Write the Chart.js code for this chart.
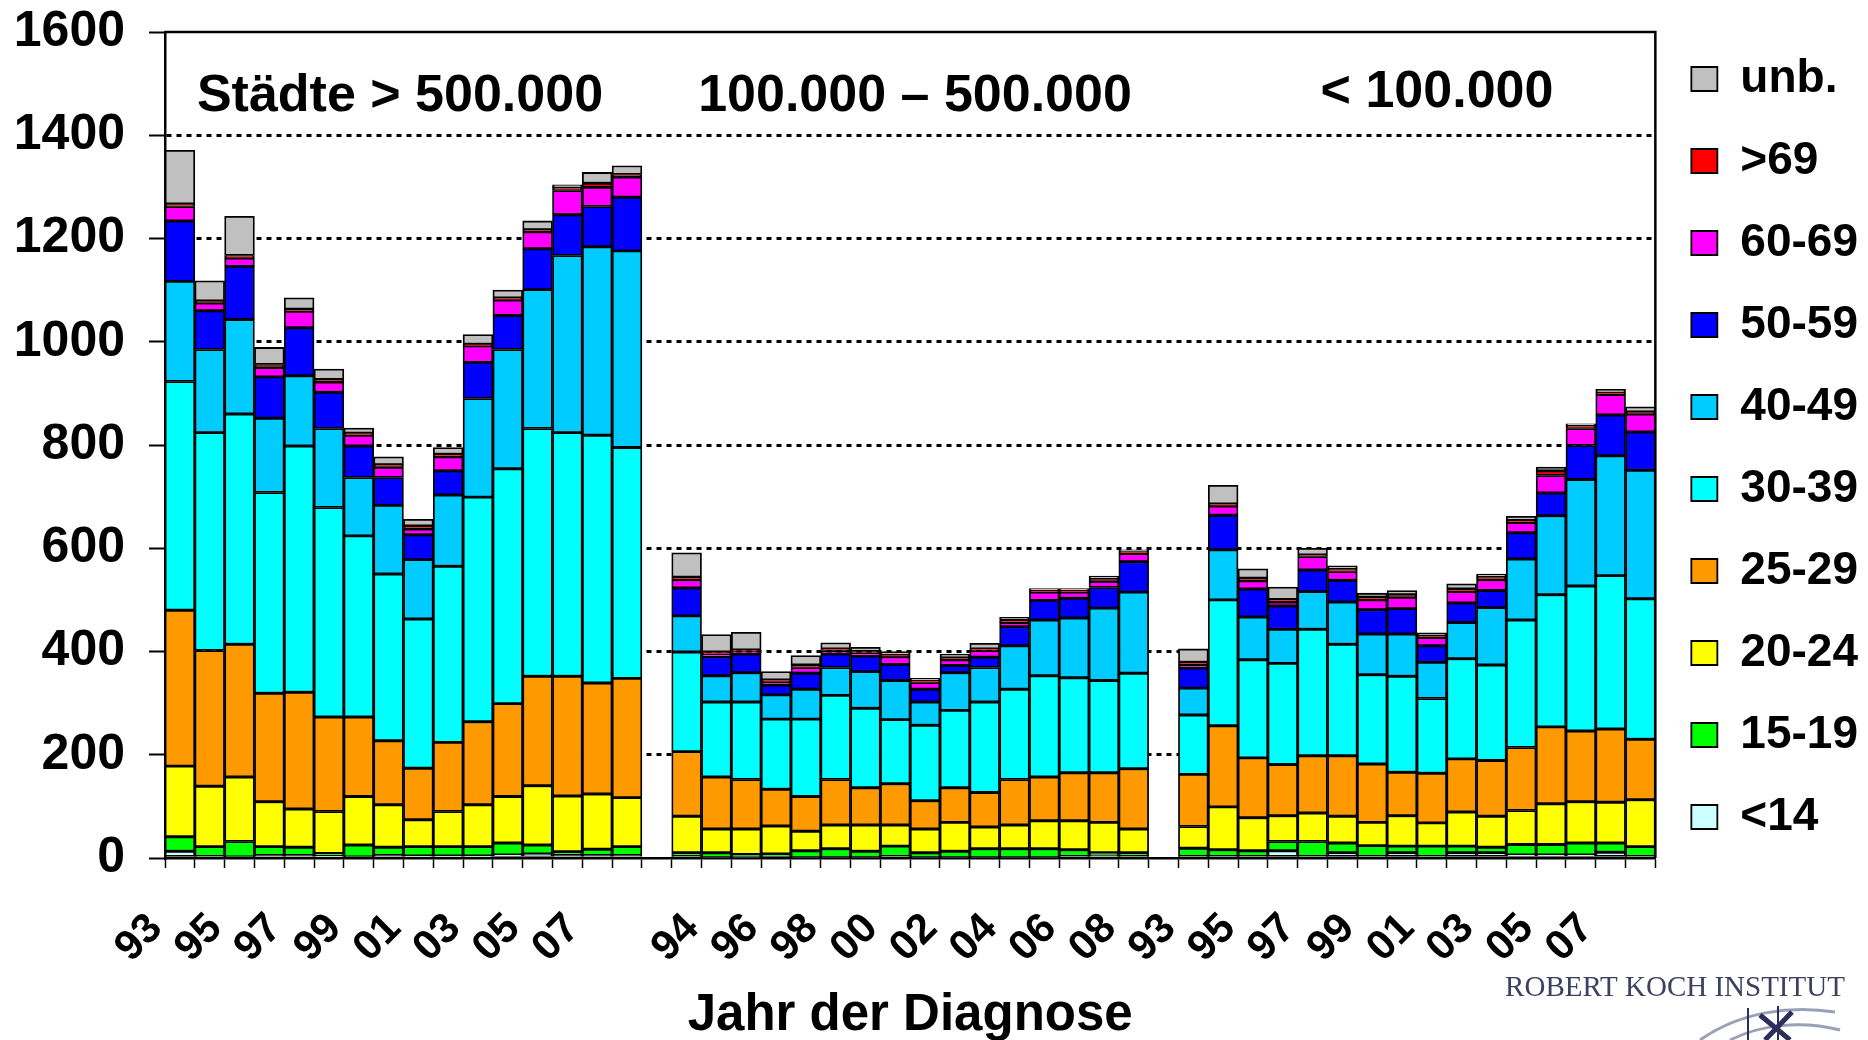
<!DOCTYPE html>
<html><head><meta charset="utf-8">
<script src="https://cdn.jsdelivr.net/npm/chart.js@4"></script>
<style>html,body{margin:0;padding:0;background:#fff;}canvas{display:block}</style>
</head><body>
<canvas id="c" width="1868" height="1040"></canvas>
<script>
// ---- data ----
const years = ['93','94','95','96','97','98','99','00','01','02','03','04','05','06','07','08'];
const groupTitles = ['Städte > 500.000', '100.000 – 500.000', '< 100.000'];
const bandNames = ['<14','15-19','20-24','25-29','30-39','40-49','50-59','60-69','>69','unb.'];
const bandColors = ['#ccffff','#00ff00','#ffff00','#ff9900','#00ffff','#00ccff','#0000ff','#ff00ff','#ff0000','#c0c0c0'];
const yTicks = [0,200,400,600,800,1000,1200,1400,1600];
const xTitle = 'Jahr der Diagnose';

// values per age band: group >500.000 (16), 100.000-500.000 (16), <100.000 (16)
const v_lt14  = [13,3,2,5,5,4,2,5,4,4,4,6,8,5,5,5,  3,1,1,2,1,1,1,3,1,1,1,1,1,3,5,3,  3,3,3,14,3,10,3,10,3,10,10,6,6,6,11,3];
const v_15_19 = [28,19,30,17,16,5,23,16,18,18,18,23,17,7,12,17,  7,9,6,6,13,17,12,20,9,12,17,17,17,13,5,7,  16,13,11,18,29,19,21,13,20,13,11,20,20,23,18,19];
const v_20_24 = [137,117,125,87,74,81,94,82,52,68,81,90,115,108,107,95,  71,46,49,54,38,46,51,41,46,56,42,46,54,56,59,46,  42,83,64,50,55,52,45,59,45,66,60,66,79,80,79,91];
const v_25_29 = [302,263,257,210,226,183,154,124,100,134,161,180,212,232,215,231,  125,101,96,71,67,88,72,80,55,67,67,88,85,93,96,117,  101,157,116,99,111,117,113,84,96,103,108,122,149,137,142,117];
const v_30_39 = [443,422,446,389,477,406,351,323,289,341,435,455,480,472,480,447,  193,145,150,136,150,163,154,124,146,150,175,175,196,184,179,185,  115,244,190,196,245,216,173,186,145,194,185,247,256,281,297,272];
const v_40_49 = [194,161,183,144,136,153,113,133,115,138,191,231,269,343,365,381,  70,51,57,47,58,54,71,76,45,73,67,84,108,116,140,157,  52,97,83,66,73,82,79,82,70,70,111,118,153,206,232,249];
const v_50_59 = [117,75,103,80,93,70,61,54,48,47,70,66,79,79,78,104,  54,37,36,19,31,26,30,31,25,14,20,37,38,38,40,59,  39,67,54,45,42,42,47,49,32,38,33,51,44,66,79,74];
const v_60_69 = [28,15,16,18,32,20,21,20,11,27,32,30,33,47,37,39,  16,5,5,6,11,7,6,15,13,11,13,8,16,12,12,16,  7,18,16,8,26,17,19,22,16,22,21,20,34,33,40,35];
const v_gt69  = [5,4,5,6,4,5,4,5,6,5,3,4,4,6,8,5,  5,4,3,4,5,3,3,3,3,4,3,5,3,3,5,3,  4,4,5,5,3,5,5,5,3,5,6,4,9,6,3,4];
const v_unb   = [104,39,76,33,22,20,10,15,13,13,19,15,17,5,21,17,  47,34,34,16,18,12,8,7,5,7,11,5,4,4,5,4,  26,36,18,24,13,6,8,8,6,10,5,8,7,3,7,10];
const bandValues = [v_lt14,v_15_19,v_20_24,v_25_29,v_30_39,v_40_49,v_50_59,v_60_69,v_gt69,v_unb];

// ---- build category axis with an empty slot between groups ----
const nG = years.length;
const labels = [];
for (let g = 0; g < 3; g++) { years.forEach(y => labels.push(y)); if (g < 2) labels.push(''); }
function withGaps(arr) {
  const out = [];
  for (let g = 0; g < 3; g++) { out.push(...arr.slice(g*nG, (g+1)*nG)); if (g < 2) out.push(null); }
  return out;
}
const datasets = bandNames.map((n, i) => ({
  label: n, data: withGaps(bandValues[i]), backgroundColor: bandColors[i],
  borderColor: '#000', borderWidth: 1.8, borderSkipped: false,
  barPercentage: 1, categoryPercentage: 1
}));

const FONT = "'Liberation Sans', Arial, sans-serif";
Chart.defaults.font.family = FONT;
Chart.defaults.color = '#000';

const extras = {
  id: 'extras',
  afterDatasetsDraw(chart) {
    const {ctx, chartArea: a} = chart;
    ctx.save();
    ctx.strokeStyle = '#000'; ctx.lineWidth = 2.5;
    ctx.beginPath(); ctx.moveTo(a.left, a.top); ctx.lineTo(a.right, a.top); ctx.lineTo(a.right, a.bottom); ctx.stroke();
    ctx.fillStyle = '#000'; ctx.font = 'bold 52px ' + FONT; ctx.textAlign = 'center'; ctx.textBaseline = 'middle';
    const pos = [[400, 97], [915, 97], [1437, 93]];
    groupTitles.forEach((t, i) => ctx.fillText(t, pos[i][0], pos[i][1]));
    // RKI logo text
    ctx.font = "29px 'Liberation Serif', 'DejaVu Serif', serif";
    ctx.fillStyle = '#3d4060';
    ctx.fillText('ROBERT KOCH INSTITUT', 1675, 988);
    // simple logo mark
    ctx.lineWidth = 3; ctx.strokeStyle = '#9aa0b8';
    ctx.beginPath(); ctx.moveTo(1700, 1040); ctx.bezierCurveTo(1740, 1012, 1790, 1005, 1835, 1012); ctx.stroke();
    ctx.beginPath(); ctx.moveTo(1730, 1040); ctx.bezierCurveTo(1760, 1025, 1800, 1020, 1840, 1030); ctx.stroke();
    ctx.strokeStyle = '#2c2f5a'; ctx.lineWidth = 5;
    ctx.beginPath(); ctx.moveTo(1760, 1015); ctx.lineTo(1790, 1040); ctx.moveTo(1792, 1012); ctx.lineTo(1765, 1040); ctx.stroke();
    ctx.lineWidth = 2;
    ctx.beginPath(); ctx.moveTo(1748, 1008); ctx.lineTo(1748, 1040); ctx.moveTo(1778, 1006); ctx.lineTo(1778, 1040); ctx.stroke();
    ctx.restore();
  }
};

new Chart(document.getElementById('c'), {
  type: 'bar',
  data: { labels, datasets },
  options: {
    responsive: false, animation: false,
    layout: { padding: { top: 20, left: 14, right: 0, bottom: 0 } },
    plugins: {
      tooltip: { enabled: false },
      legend: {
        position: 'right', align: 'start', reverse: true,
        labels: { boxWidth: 26, boxHeight: 24, padding: 36, color: '#000',
                  font: { family: FONT, weight: 'bold', size: 46 } }
      }
    },
    scales: {
      x: {
        stacked: true, offset: true,
        afterFit: s => { s.paddingLeft = 0; s.paddingRight = 0; s.height = 182; },
        grid: { offset: true, drawOnChartArea: false, drawTicks: true, tickLength: 10, tickColor: '#000', tickWidth: 1.5, color: '#000' },
        border: { display: true, color: '#000', width: 2.5 },
        ticks: {
          autoSkip: false, maxRotation: 45, minRotation: 45, labelOffset: -24, padding: 36, color: '#000',
          font: { family: FONT, weight: 'bold', size: 42 },
          callback: (v, i) => (i % 2 === 0 ? labels[i] : '')
        },
        title: { display: true, text: xTitle, color: '#000', font: { family: FONT, weight: 'bold', size: 51, lineHeight: 0.9 }, padding: { top: 1, bottom: 1 } }
      },
      y: {
        stacked: true, min: yTicks[0], max: yTicks[yTicks.length - 1],
        afterFit: s => { s.width = 151; },
        afterBuildTicks: s => { s.ticks = yTicks.map(v => ({ value: v })); },
        ticks: { padding: 24, color: '#000', font: { family: FONT, weight: 'bold', size: 50, lineHeight: 0.32 },
                 callback: v => String(v) },
        grid: {
          color: c => (c.tick && (c.tick.value === 0 || c.tick.value === 1600)) ? 'rgba(0,0,0,0)' : '#000',
          lineWidth: 3, tickLength: 16, tickColor: '#000', tickWidth: 2
        },
        border: { display: true, color: '#000', width: 2.5, dash: [5, 5] }
      }
    }
  },
  plugins: [extras]
});
</script>
</body></html>
